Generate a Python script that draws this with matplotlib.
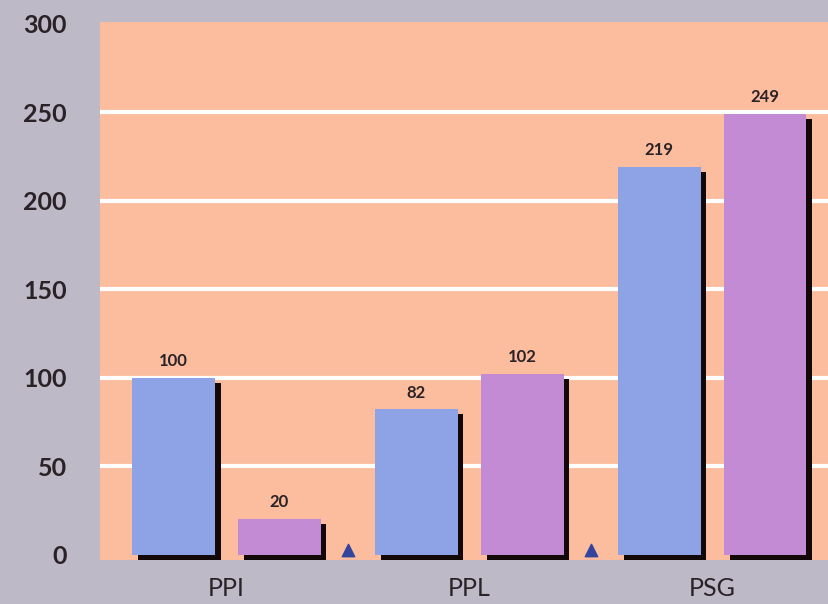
"""
Grouped bar chart: PPI / PPL / PSG, two series with drop shadows.
"""

import matplotlib.pyplot as plt
import numpy as np

categories = ["PPI", "PPL", "PSG"]
series_a = [100, 82, 219]   # blue
series_b = [20, 102, 249]   # purple
y_ticks = [0, 50, 100, 150, 200, 250, 300]
grid_levels = [50, 100, 150, 200, 250]

BG = "#BDB9C7"
PLOT_BG = "#FBBD9E"
BLUE = "#8EA3E5"
PURPLE = "#C28BD3"
SHADOW = "#120808"
TEXT = "#2a2226"
MARKER = "#33449E"

plt.rcParams["font.family"] = ["Lato", "DejaVu Sans"]

fig = plt.figure(figsize=(8.29, 6.04), dpi=100, facecolor=BG)
ax = fig.add_axes([0.121, 0.073, 0.879, 0.891])
ax.set_facecolor(PLOT_BG)

x = np.arange(len(categories))
offset = 0.218
width = 0.34
dx = 0.024   # shadow shift right (data units)
dy = 2.8     # shadow shift down (data units)

for yv in grid_levels:
    ax.axhline(yv, color="white", linewidth=3, zorder=1)

for xs, vals, color in [(x - offset, series_a, BLUE), (x + offset, series_b, PURPLE)]:
    ax.bar(xs + dx, vals, width=width, bottom=-dy, color=SHADOW, zorder=2)
    ax.bar(xs, vals, width=width, color=color, zorder=3)
    for xi, v in zip(xs, vals):
        ax.text(xi, v + 5, str(v), ha="center", va="bottom",
                fontsize=12, fontweight="bold", color=TEXT, zorder=4)

# small markers between groups
ax.scatter(x[:-1] + 0.5, [2.5] * (len(x) - 1), marker="^", s=80,
           color=MARKER, zorder=4, clip_on=False)

ax.set_xlim(-0.519, 2.481)
ax.set_ylim(-3, 301)
ax.set_yticks(y_ticks)
ax.set_yticklabels([str(t) for t in y_ticks], fontsize=18,
                   fontweight="bold", color=TEXT)
ax.set_xticks(x)
ax.set_xticklabels(categories, fontsize=18, color=TEXT)
ax.tick_params(axis="y", length=0, pad=24)
ax.tick_params(axis="x", length=0, pad=12)
for s in ax.spines.values():
    s.set_visible(False)

fig.savefig("out.png", dpi=100, facecolor=BG)
